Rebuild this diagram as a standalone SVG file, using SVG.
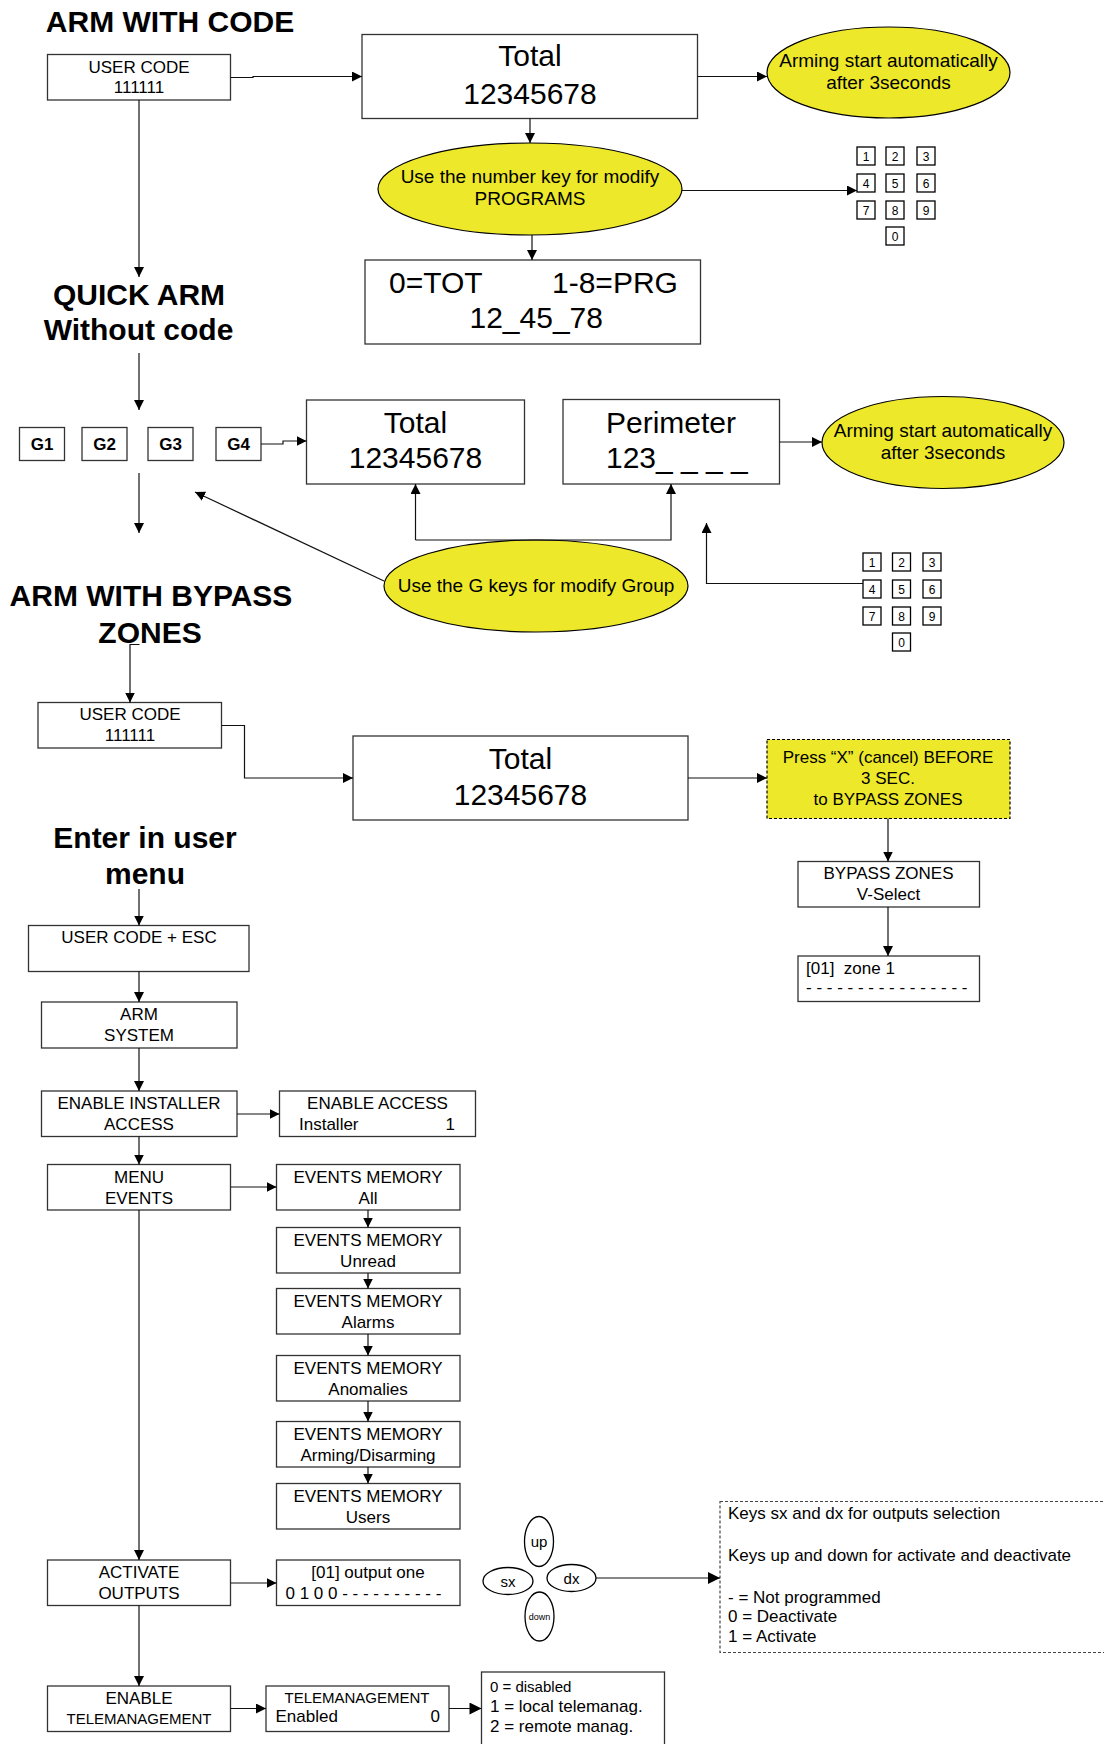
<svg xmlns="http://www.w3.org/2000/svg" width="1104" height="1744" viewBox="0 0 1104 1744">
<style>
text{font-family:"Liberation Sans",Arial,sans-serif;fill:#000}
.t{font-size:30px;font-weight:bold;text-anchor:middle}
.big{font-size:30px}
.m{font-size:17px}
.e{font-size:19px;text-anchor:middle}
.c{text-anchor:middle}
.k{font-size:12px;text-anchor:middle}
.box{fill:#fff;stroke:#333;stroke-width:1.3}
.yel{fill:#ede82a;stroke:#000;stroke-width:1.2}
.dash{stroke-dasharray:3,2}
.ln{fill:none;stroke:#111;stroke-width:1.2}
.key{fill:#fff;stroke:#000;stroke-width:1.3}
</style>
<defs>
<marker id="ah" viewBox="0 0 10 10" refX="10" refY="5" markerWidth="10" markerHeight="10" markerUnits="userSpaceOnUse" orient="auto"><path d="M0,0 L10,5 L0,10 z" fill="#000"/></marker>
<marker id="ahL" viewBox="0 0 10 10" refX="10" refY="5" markerWidth="16" markerHeight="12" markerUnits="userSpaceOnUse" orient="auto"><path d="M0,0 L10,5 L0,10 z" fill="#000"/></marker>
</defs>

<!-- titles -->
<g id="title-arm-code"><text class="t" x="170" y="32">ARM WITH CODE</text></g>
<g id="title-quick"><text class="t" x="139" y="305">QUICK ARM</text><text class="t" x="138.5" y="340">Without code</text></g>
<g id="title-bypass"><text class="t" x="151" y="606">ARM WITH BYPASS</text><text class="t" x="150" y="643">ZONES</text></g>
<g id="title-menu"><text class="t" x="145" y="848">Enter in user</text><text class="t" x="145" y="884">menu</text></g>

<!-- section 1 -->
<g id="usercode1"><rect class="box" x="47.5" y="54.5" width="183" height="45.5"/><text class="m c" x="139" y="72.5">USER CODE</text><text class="m c" x="139" y="93">111111</text></g>
<g id="total1"><rect class="box" x="362" y="34.5" width="335.5" height="84"/><text class="big c" x="530" y="66">Total</text><text class="big c" x="530" y="104">12345678</text></g>
<g id="arming1"><ellipse class="yel" cx="888.5" cy="72.5" rx="121.5" ry="45.5"/><text class="e" x="888.5" y="67">Arming start automatically</text><text class="e" x="888.5" y="89">after 3seconds</text></g>
<g id="usenumber"><ellipse class="yel" cx="530" cy="189" rx="152" ry="46"/><text class="e" x="530" y="183">Use the number key for modify</text><text class="e" x="530" y="205">PROGRAMS</text></g>
<g id="prg"><rect class="box" x="365" y="260" width="335.5" height="84"/><text class="big" x="389" y="293">0=TOT</text><text class="big" x="552" y="293">1-8=PRG</text><text class="big" x="469.5" y="328">12_45_78</text></g>
<g id="keypad1">
<rect class="key" x="857" y="147" width="18" height="18"/><text class="k" x="866" y="160.5">1</text>
<rect class="key" x="886" y="147" width="18" height="18"/><text class="k" x="895" y="160.5">2</text>
<rect class="key" x="917" y="147" width="18" height="18"/><text class="k" x="926" y="160.5">3</text>
<rect class="key" x="857" y="174" width="18" height="18"/><text class="k" x="866" y="187.5">4</text>
<rect class="key" x="886" y="174" width="18" height="18"/><text class="k" x="895" y="187.5">5</text>
<rect class="key" x="917" y="174" width="18" height="18"/><text class="k" x="926" y="187.5">6</text>
<rect class="key" x="857" y="201" width="18" height="18"/><text class="k" x="866" y="214.5">7</text>
<rect class="key" x="886" y="201" width="18" height="18"/><text class="k" x="895" y="214.5">8</text>
<rect class="key" x="917" y="201" width="18" height="18"/><text class="k" x="926" y="214.5">9</text>
<rect class="key" x="886" y="227" width="18" height="18"/><text class="k" x="895" y="240.5">0</text>
</g>

<!-- section 2 -->
<g id="g1"><rect class="box" x="19.5" y="427.5" width="45" height="33"/><text class="m c" x="42" y="450" font-weight="bold" font-size="16">G1</text></g>
<g id="g2"><rect class="box" x="82" y="427.5" width="45" height="33"/><text class="m c" x="104.5" y="450" font-weight="bold" font-size="16">G2</text></g>
<g id="g3"><rect class="box" x="148" y="427.5" width="45" height="33"/><text class="m c" x="170.5" y="450" font-weight="bold" font-size="16">G3</text></g>
<g id="g4"><rect class="box" x="216" y="427.5" width="45" height="33"/><text class="m c" x="238.5" y="450" font-weight="bold" font-size="16">G4</text></g>
<g id="total2"><rect class="box" x="306.5" y="400" width="218" height="84"/><text class="big c" x="415.5" y="433">Total</text><text class="big c" x="415.5" y="468">12345678</text></g>
<g id="perimeter"><rect class="box" x="563" y="399.5" width="216.5" height="84.5"/><text class="big c" x="671" y="433">Perimeter</text><text class="big" x="606" y="468">123_ _ _ _</text></g>
<g id="arming2"><ellipse class="yel" cx="943" cy="442.5" rx="121" ry="46"/><text class="e" x="943" y="437">Arming start automatically</text><text class="e" x="943" y="459">after 3seconds</text></g>
<g id="usegkeys"><ellipse class="yel" cx="536" cy="586" rx="152" ry="46"/><text class="e" x="536" y="592">Use the G keys for modify Group</text></g>
<g id="keypad2">
<rect class="key" x="863" y="553" width="18" height="18"/><text class="k" x="872" y="566.5">1</text>
<rect class="key" x="892.5" y="553" width="18" height="18"/><text class="k" x="901.5" y="566.5">2</text>
<rect class="key" x="923" y="553" width="18" height="18"/><text class="k" x="932" y="566.5">3</text>
<rect class="key" x="863" y="580" width="18" height="18"/><text class="k" x="872" y="593.5">4</text>
<rect class="key" x="892.5" y="580" width="18" height="18"/><text class="k" x="901.5" y="593.5">5</text>
<rect class="key" x="923" y="580" width="18" height="18"/><text class="k" x="932" y="593.5">6</text>
<rect class="key" x="863" y="607" width="18" height="18"/><text class="k" x="872" y="620.5">7</text>
<rect class="key" x="892.5" y="607" width="18" height="18"/><text class="k" x="901.5" y="620.5">8</text>
<rect class="key" x="923" y="607" width="18" height="18"/><text class="k" x="932" y="620.5">9</text>
<rect class="key" x="892.5" y="633" width="18" height="18"/><text class="k" x="901.5" y="646.5">0</text>
</g>

<!-- section 3 -->
<g id="usercode2"><rect class="box" x="38" y="702.5" width="183.5" height="45.5"/><text class="m c" x="130" y="720">USER CODE</text><text class="m c" x="130" y="741">111111</text></g>
<g id="total3"><rect class="box" x="353" y="736" width="335" height="84"/><text class="big c" x="520.5" y="769">Total</text><text class="big c" x="520.5" y="805">12345678</text></g>
<g id="pressx"><rect class="yel dash" x="767" y="739.5" width="243" height="79" stroke="#333"/><text class="m c" x="888" y="762.5">Press “X” (cancel) BEFORE</text><text class="m c" x="888" y="783.5">3 SEC.</text><text class="m c" x="888" y="804.5">to BYPASS ZONES</text></g>
<g id="bypasszones"><rect class="box" x="798" y="861.5" width="181.5" height="45.5"/><text class="m c" x="888.5" y="879">BYPASS ZONES</text><text class="m c" x="888.5" y="900">V-Select</text></g>
<g id="zone1"><rect class="box" x="798" y="956" width="181.5" height="45.5"/><text class="m" x="806" y="974" xml:space="preserve">[01]  zone 1</text><text class="m" x="806" y="993">- - - - - - - - - - - - - - - -</text></g>

<!-- section 4 -->
<g id="usercodeesc"><rect class="box" x="28.5" y="925.5" width="220.5" height="46"/><text class="m c" x="139" y="943">USER CODE + ESC</text></g>
<g id="armsystem"><rect class="box" x="41.5" y="1002" width="195.5" height="46"/><text class="m c" x="139" y="1020">ARM</text><text class="m c" x="139" y="1041">SYSTEM</text></g>
<g id="enableinstaller"><rect class="box" x="41.5" y="1091" width="195.5" height="45.5"/><text class="m c" x="139" y="1109">ENABLE INSTALLER</text><text class="m c" x="139" y="1129.5">ACCESS</text></g>
<g id="enableaccess"><rect class="box" x="279.5" y="1091" width="196" height="45.5"/><text class="m c" x="377.5" y="1109">ENABLE ACCESS</text><text class="m" x="299" y="1129.5">Installer</text><text class="m" x="455" y="1129.5" text-anchor="end">1</text></g>
<g id="menuevents"><rect class="box" x="47.5" y="1164.5" width="183" height="45.5"/><text class="m c" x="139" y="1182.5">MENU</text><text class="m c" x="139" y="1203.5">EVENTS</text></g>
<g id="ev-all"><rect class="box" x="276.5" y="1164.5" width="183.5" height="45.5"/><text class="m c" x="368" y="1182.5">EVENTS MEMORY</text><text class="m c" x="368" y="1203.5">All</text></g>
<g id="ev-unread"><rect class="box" x="276.5" y="1227.5" width="183.5" height="45.5"/><text class="m c" x="368" y="1245.5">EVENTS MEMORY</text><text class="m c" x="368" y="1266.5">Unread</text></g>
<g id="ev-alarms"><rect class="box" x="276.5" y="1288.5" width="183.5" height="45.5"/><text class="m c" x="368" y="1306.5">EVENTS MEMORY</text><text class="m c" x="368" y="1327.5">Alarms</text></g>
<g id="ev-anomalies"><rect class="box" x="276.5" y="1355.5" width="183.5" height="45.5"/><text class="m c" x="368" y="1373.5">EVENTS MEMORY</text><text class="m c" x="368" y="1394.5">Anomalies</text></g>
<g id="ev-arming"><rect class="box" x="276.5" y="1421.5" width="183.5" height="45.5"/><text class="m c" x="368" y="1439.5">EVENTS MEMORY</text><text class="m c" x="368" y="1460.5">Arming/Disarming</text></g>
<g id="ev-users"><rect class="box" x="276.5" y="1483.5" width="183.5" height="45.5"/><text class="m c" x="368" y="1501.5">EVENTS MEMORY</text><text class="m c" x="368" y="1522.5">Users</text></g>
<g id="activateoutputs"><rect class="box" x="47.5" y="1560" width="183" height="45.5"/><text class="m c" x="139" y="1578">ACTIVATE</text><text class="m c" x="139" y="1598.5">OUTPUTS</text></g>
<g id="outputone"><rect class="box" x="276.5" y="1560" width="183.5" height="45.5"/><text class="m c" x="368" y="1578">[01] output one</text><text class="m" x="285.5" y="1598.5">0 1 0 0 - - - - - - - - - -</text></g>
<g id="keys">
<ellipse cx="539" cy="1541.5" rx="14.5" ry="25" fill="#fff" stroke="#000" stroke-width="1.3"/><text class="c" x="539" y="1547" font-size="15">up</text>
<ellipse cx="508" cy="1581" rx="25" ry="13.5" fill="#fff" stroke="#000" stroke-width="1.3"/><text class="c" x="508" y="1586.5" font-size="15">sx</text>
<ellipse cx="571.5" cy="1578" rx="24.5" ry="13.5" fill="#fff" stroke="#000" stroke-width="1.3"/><text class="c" x="571.5" y="1583.5" font-size="15">dx</text>
<ellipse cx="539.5" cy="1616.5" rx="14.5" ry="24.5" fill="#fff" stroke="#000" stroke-width="1.3"/><text class="c" x="539.5" y="1619.5" font-size="9">down</text>
</g>
<g id="keysnote"><rect class="dash" x="720" y="1501.5" width="400" height="151" fill="none" stroke="#444" stroke-width="1.2"/>
<text class="m" x="728" y="1519">Keys sx and dx for outputs selection</text>
<text class="m" x="728" y="1561">Keys up and down for activate and deactivate</text>
<text class="m" x="728" y="1603">- = Not programmed</text>
<text class="m" x="728" y="1622">0 = Deactivate</text>
<text class="m" x="728" y="1642">1 = Activate</text></g>
<g id="enabletele"><rect class="box" x="47.5" y="1686" width="183" height="45.5"/><text class="m c" x="139" y="1703.5">ENABLE</text><text class="c" x="139" y="1724" font-size="15">TELEMANAGEMENT</text></g>
<g id="teleenabled"><rect class="box" x="266" y="1686" width="183" height="45.5"/><text class="c" x="357" y="1702.5" font-size="15">TELEMANAGEMENT</text><text class="m" x="275.5" y="1722">Enabled</text><text class="m" x="440" y="1722" text-anchor="end">0</text></g>
<g id="teleoptions"><rect class="box" x="481.5" y="1672" width="183" height="80"/><text x="490" y="1692" font-size="15">0 = disabled</text><text class="m" x="490" y="1712">1 = local telemanag.</text><text class="m" x="490" y="1732">2 = remote manag.</text></g>

<!-- connectors -->
<g id="connectors" class="ln">
<path d="M230.5,77.5 H253 V76.5 H362" marker-end="url(#ah)"/>
<path d="M697.5,76.5 H767" marker-end="url(#ah)"/>
<path d="M139,100 V277" marker-end="url(#ah)"/>
<path d="M530,118.5 V143" marker-end="url(#ah)"/>
<path d="M532,235 V260" marker-end="url(#ah)"/>
<path d="M682,190.5 H857" marker-end="url(#ah)"/>
<path d="M139,353 V410" marker-end="url(#ah)"/>
<path d="M261,444 H283 V441 H306.5" marker-end="url(#ah)"/>
<path d="M139,473 V533" marker-end="url(#ah)"/>
<path d="M384,581 L195,492" marker-end="url(#ah)"/>
<path d="M415.5,540 V484" marker-end="url(#ah)"/>
<path d="M415.5,540 H671 V484" marker-end="url(#ah)"/>
<path d="M779.5,442 H822" marker-end="url(#ah)"/>
<path d="M863,583.5 H706.5 V523" marker-end="url(#ah)"/>
<path d="M139.5,644.5 H130 V702.5" marker-end="url(#ah)"/>
<path d="M221.5,725.5 H244.5 V778 H353" marker-end="url(#ah)"/>
<path d="M688,778 H767" marker-end="url(#ah)"/>
<path d="M888,818.5 V861.5" marker-end="url(#ah)"/>
<path d="M888,907 V956" marker-end="url(#ah)"/>
<path d="M139,889 V925.5" marker-end="url(#ah)"/>
<path d="M139,971.5 V1002" marker-end="url(#ah)"/>
<path d="M139,1048 V1091" marker-end="url(#ah)"/>
<path d="M237,1114 H279.5" marker-end="url(#ah)"/>
<path d="M139,1136.5 V1164.5" marker-end="url(#ah)"/>
<path d="M230.5,1187 H276.5" marker-end="url(#ah)"/>
<path d="M368,1210 V1227.5" marker-end="url(#ah)"/>
<path d="M368,1273 V1288.5" marker-end="url(#ah)"/>
<path d="M368,1334 V1355.5" marker-end="url(#ah)"/>
<path d="M368,1401 V1421.5" marker-end="url(#ah)"/>
<path d="M368,1467 V1483.5" marker-end="url(#ah)"/>
<path d="M139,1210 V1560" marker-end="url(#ah)"/>
<path d="M230.5,1583 H276.5" marker-end="url(#ah)"/>
<path d="M596,1578 H720" marker-end="url(#ahL)"/>
<path d="M139,1605.5 V1686" marker-end="url(#ah)"/>
<path d="M230.5,1708.5 H266" marker-end="url(#ah)"/>
<path d="M449,1708.5 H481.5" marker-end="url(#ahL)"/>
</g>
</svg>
